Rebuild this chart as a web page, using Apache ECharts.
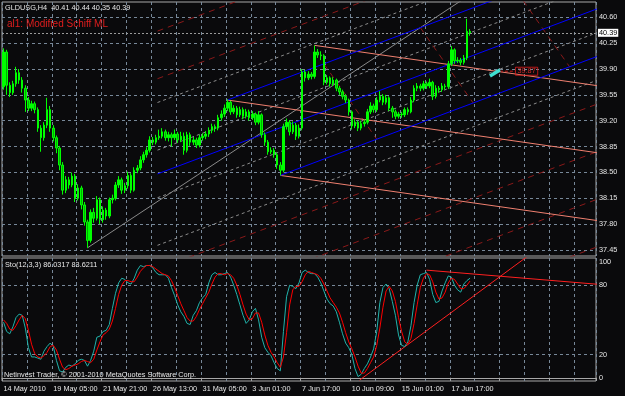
<!DOCTYPE html>
<html><head><meta charset="utf-8">
<script src="https://cdn.jsdelivr.net/npm/echarts@6/dist/echarts.min.js"></script>
<style>html,body{margin:0;padding:0;background:#0a0a0c}#c{width:625px;height:396px}</style>
</head><body><div id="c"></div>
<script>
// ---- data (GLDUSG, H4) ----
const symbolName = 'GLDUSG,H4';
const opens = [
39.66,40.13,39.68,39.58,39.70,39.85,39.75,39.64,39.48,39.37,
39.43,39.35,39.10,38.97,39.14,39.35,39.10,38.97,38.83,38.60,
38.26,38.40,38.33,38.45,38.15,38.29,38.06,37.83,37.58,37.96,
37.88,38.13,37.86,37.99,37.91,38.13,38.15,38.33,38.40,38.26,
38.32,38.46,38.26,38.53,38.56,38.67,38.74,38.80,38.94,38.91,
38.97,38.99,39.05,38.97,39.01,38.97,39.02,38.94,38.99,38.80,
39.01,38.91,38.94,38.87,38.97,38.99,39.02,39.07,39.12,39.10,
39.24,39.29,39.37,39.45,39.32,39.37,39.28,39.35,39.26,39.32,
39.24,39.29,39.18,39.28,39.01,38.91,38.78,38.80,38.74,38.60,
38.53,39.12,39.18,39.05,39.14,38.99,39.10,39.86,39.78,39.83,
39.80,40.13,40.09,40.08,39.72,39.78,39.70,39.75,39.64,39.59,
39.53,39.48,39.32,39.13,39.18,39.10,39.16,39.18,39.32,39.40,
39.35,39.48,39.53,39.45,39.51,39.37,39.32,39.26,39.29,39.28,
39.35,39.32,39.48,39.64,39.67,39.64,39.70,39.67,39.72,39.53,
39.64,39.62,39.67,39.66,39.97,40.16,40.01,40.02,39.99,40.05,
40.41];
const closes = [
40.13,39.68,39.58,39.70,39.85,39.75,39.64,39.48,39.37,39.43,
39.35,39.10,38.97,39.14,39.35,39.10,38.97,38.83,38.60,38.26,
38.40,38.33,38.45,38.15,38.29,38.06,37.83,37.58,37.96,37.88,
38.13,37.86,37.99,37.91,38.13,38.15,38.33,38.40,38.26,38.32,
38.46,38.26,38.53,38.56,38.67,38.74,38.80,38.94,38.91,38.97,
38.99,39.05,38.97,39.01,38.97,39.02,38.94,38.99,38.80,39.01,
38.91,38.94,38.87,38.97,38.99,39.02,39.07,39.12,39.10,39.24,
39.29,39.37,39.45,39.32,39.37,39.28,39.35,39.26,39.32,39.24,
39.29,39.18,39.28,39.01,38.91,38.78,38.80,38.74,38.60,38.53,
39.12,39.18,39.05,39.14,38.99,39.10,39.86,39.78,39.83,39.80,
40.13,40.09,40.08,39.72,39.78,39.70,39.75,39.64,39.59,39.53,
39.48,39.32,39.13,39.18,39.10,39.16,39.18,39.32,39.40,39.35,
39.48,39.53,39.45,39.51,39.37,39.32,39.26,39.29,39.28,39.35,
39.32,39.48,39.64,39.67,39.64,39.70,39.67,39.72,39.53,39.64,
39.62,39.67,39.66,39.97,40.16,40.01,40.02,39.99,40.05,40.41,
40.39];
const highs = [
40.18,40.16,39.72,39.74,39.93,39.90,39.79,39.68,39.52,39.47,
39.46,39.38,39.14,39.18,39.51,39.40,39.14,39.00,38.86,38.64,
38.45,38.44,38.50,38.48,38.34,38.32,38.10,37.86,38.00,38.02,
38.18,38.16,38.04,38.02,38.16,38.20,38.37,38.45,38.43,38.36,
38.51,38.49,38.57,38.60,38.72,38.78,38.84,38.99,38.98,39.01,
39.08,39.10,39.08,39.05,39.04,39.08,39.05,39.05,39.04,39.05,
39.04,38.98,38.97,39.01,39.03,39.06,39.11,39.16,39.15,39.28,
39.34,39.42,39.49,39.47,39.41,39.40,39.39,39.38,39.36,39.35,
39.33,39.31,39.33,39.30,39.04,38.94,38.84,38.83,38.77,38.64,
39.16,39.23,39.21,39.19,39.17,39.15,39.90,39.89,39.87,39.86,
40.22,40.17,40.14,40.10,39.82,39.80,39.79,39.77,39.67,39.62,
39.56,39.50,39.34,39.22,39.20,39.20,39.22,39.36,39.45,39.43,
39.52,39.60,39.56,39.55,39.53,39.40,39.35,39.32,39.32,39.38,
39.38,39.52,39.68,39.71,39.70,39.74,39.73,39.77,39.74,39.68,
39.67,39.71,39.70,40.01,40.21,40.18,40.06,40.05,40.09,40.58,
40.44];
const lows = [
39.62,39.55,39.52,39.55,39.66,39.70,39.58,39.32,39.33,39.33,
39.30,39.05,38.78,38.93,39.10,39.05,38.92,38.76,38.53,38.20,
38.22,38.28,38.30,38.10,38.12,38.00,37.78,37.48,37.55,37.82,
37.85,37.80,37.82,37.86,37.88,38.08,38.12,38.29,38.21,38.22,
38.28,38.22,38.24,38.49,38.53,38.63,38.70,38.77,38.87,38.88,
38.94,38.96,38.93,38.92,38.85,38.94,38.90,38.91,38.74,38.77,
38.86,38.87,38.83,38.84,38.93,38.95,38.98,39.03,39.05,39.07,
39.20,39.25,39.33,39.28,39.29,39.24,39.25,39.22,39.23,39.20,
39.21,39.14,39.15,38.97,38.86,38.74,38.75,38.70,38.55,38.46,
38.50,39.08,39.00,39.02,38.94,38.96,39.07,39.73,39.75,39.76,
39.77,40.05,40.02,39.68,39.69,39.66,39.67,39.60,39.55,39.49,
39.44,39.27,39.08,39.10,39.06,39.07,39.12,39.15,39.29,39.31,
39.32,39.45,39.41,39.42,39.33,39.24,39.22,39.23,39.24,39.25,
39.28,39.30,39.45,39.60,39.60,39.61,39.63,39.64,39.48,39.50,
39.58,39.59,39.62,39.63,39.94,39.97,39.98,39.95,39.96,40.02,
40.35];
const stochK = [
48,40,38,44,52,55,54,43,26,18,
18,17,16,23,27,30,27,15,6,5,
9,11,10,12,15,16,15,10,15,23,
35,36,40,41,46,60,73,82,86,85,
82,81,86,93,97,96,97,97,95,91,
89,89,89,86,78,71,63,57,53,47,
46,54,58,65,69,72,82,89,91,89,
89,90,91,87,80,72,63,54,47,50,
57,60,50,35,26,22,19,13,8,6,
40,70,80,79,77,82,91,93,91,90,
90,87,82,75,68,64,62,57,48,38,
30,26,20,8,1,3,8,12,18,25,
40,65,78,81,77,66,54,37,28,27,
31,45,65,80,89,90,91,85,72,65,
66,75,82,88,87,80,76,74,81,84,
86.0317];
const stochD = [
50,47,42,41,45,50,54,51,41,29,
21,18,17,19,22,27,28,24,16,9,
7,8,10,11,12,14,15,14,13,16,
24,31,37,39,42,49,60,72,80,84,
84,83,83,87,92,95,97,97,96,94,
92,90,89,88,84,78,71,64,58,52,
49,49,53,59,64,69,74,81,87,90,
90,89,90,89,86,80,72,63,55,50,
51,56,56,48,37,28,22,18,13,9,
18,39,63,76,79,79,83,89,92,91,
90,89,86,81,75,69,65,61,56,48,
39,31,25,18,10,4,4,8,13,18,
28,43,61,75,79,75,66,52,40,31,
29,34,47,63,78,86,90,89,83,74,
68,69,74,82,86,85,81,77,77,80,
83.6211];
const timeLabels = ['14 May 2010','19 May 05:00','21 May 21:00','26 May 13:00','31 May 05:00','3 Jun 01:00','7 Jun 17:00','10 Jun 09:00','15 Jun 01:00','17 Jun 17:00'];
const labelEvery = 16;      // bars between time labels
const slotCount = 191;      // bar slots visible across the chart
const priceLabels = [37.45, 37.80, 38.15, 38.50, 38.85, 39.20, 39.55, 39.90, 40.25, 40.60];
const stochLabels = [0, 20, 80, 100];
const stochLevels = [20, 80];
// drawn objects (bar index, price)
const pfBars = [27, 72, 89];
const pfPrices = [37.48, 39.48, 38.46];
const peakBar = 100, peakPrice = 40.22;
const channelSlope = -0.0060;       // price per bar of the salmon channel
const targetBar = [156.4, 159.6], targetPrice = [39.805, 39.886];
const targetLabel = 39.87;
const stochLine1 = [[114.5, -2], [175, 117.9]];
const stochLine2 = [[136, 93], [200, 78.8]];

// ---- build ----
const chart = echarts.init(document.getElementById('c'), null, {renderer: 'canvas'});
const FN = '"Liberation Sans",Arial,sans-serif';
const FS = 7.3;
const FG = '#e6e6e6';
const GRIDC = '#778899';
const categories = Array.from({length: slotCount}, (_, i) => String(i));
const ohlc = opens.map((o, i) => [o, closes[i], lows[i], highs[i]]);
const last = opens.length - 1;

const H = [(pfBars[0] + pfBars[1]) / 2, (pfPrices[0] + pfPrices[1]) / 2];
const M = [(pfBars[1] + pfBars[2]) / 2, (pfPrices[1] + pfPrices[2]) / 2];
const slope = (M[1] - H[1]) / (M[0] - H[0]);
const med = b => H[1] + slope * (b - H[0]);
const w = pfPrices[1] - med(pfBars[1]);
const END = 205;
const par = (sb, off) => [[sb, med(sb) + off], [END, med(END) + off]];

const segs = [];
function seg(pts, color, type, width, xi, yi) {
  segs.push({type: 'line', xAxisIndex: xi === undefined ? 2 : xi, yAxisIndex: yi === undefined ? 0 : yi,
    data: pts, symbol: 'none', silent: true, clip: true, animation: false, z: 3,
    lineStyle: {color, type, width: width || 1}});
}
[0.5, -0.5, 1.5, -1.5].forEach(k => seg(par(H[0], k * w), '#8c8c8c', [3, 3]));
[2, -2, 3, -3, 4, -4, 5, -5].forEach(k => seg(par(H[0], k * w), '#8b1a1a', [6, 5]));
for (let k = 1; k <= 4; k++) {
  seg([[pfBars[1] + k * (M[0] - H[0]), pfPrices[1] + k * (M[1] - H[1])],
       [pfBars[2] + k * (M[0] - H[0]), pfPrices[2] + k * (M[1] - H[1])]], '#8b1a1a', [6, 5]);
}
const aSlope = (M[1] - pfPrices[0]) / (M[0] - pfBars[0]);
seg([[pfBars[0], pfPrices[0]], [END, pfPrices[0] + aSlope * (END - pfBars[0])]], '#8a8a8a', 'solid');
[[pfBars[1], pfPrices[1]], [pfBars[2], pfPrices[2]], [peakBar, peakPrice]].forEach(p =>
  seg([p, [END, p[1] + channelSlope * (END - p[0])]], '#f08070', 'solid'));
seg(par(H[0], 0), '#0000ff', 'solid');
seg(par(pfBars[1], w), '#0000ff', 'solid');
seg(par(pfBars[2], -w), '#0000ff', 'solid');
seg([[targetBar[1], targetLabel], [targetBar[1] + 5, targetLabel]], '#c01818', [3, 2]);
seg([[targetBar[0], targetPrice[0]], [targetBar[1], targetPrice[1]]], '#40e0d0', 'solid', 3.5);
seg(stochLine1, '#ff2020', 'solid', 1, 3, 1);
seg(stochLine2, '#ff2020', 'solid', 1, 3, 1);

const axisTxt = {color: FG, fontFamily: FN, fontSize: FS};
const gridSplit = {show: true, lineStyle: {color: GRIDC, type: [3, 3], width: 1}};
const lvlLabel = {show: true, position: 'end', distance: 3, color: FG, fontFamily: FN, fontSize: FS};

const option = {
  backgroundColor: '#0a0a0c',
  animation: false,
  grid: [
    {left: 2, top: 2, width: 594, height: 254, show: true, borderColor: '#a8a8a8', borderWidth: 1},
    {left: 2, top: 258, width: 594, height: 123, show: true, borderColor: '#a8a8a8', borderWidth: 1}
  ],
  xAxis: [
    {type: 'category', gridIndex: 0, data: categories, boundaryGap: true,
     axisLine: {show: false}, axisTick: {show: false}, axisLabel: {show: false},
     splitLine: Object.assign({interval: 7}, gridSplit)},
    {type: 'category', gridIndex: 1, data: categories, boundaryGap: true,
     axisLine: {show: true, lineStyle: {color: '#a8a8a8'}},
     axisTick: {show: true, interval: labelEvery - 1, length: 3, lineStyle: {color: '#a8a8a8'}},
     axisLabel: Object.assign({show: true, interval: labelEvery - 1, align: 'left', margin: 4, showMinLabel: true,
       formatter: (v, i) => (i % labelEvery === 0 && timeLabels[i / labelEvery]) || ''}, axisTxt),
     splitLine: Object.assign({interval: 7}, gridSplit)},
    {type: 'value', gridIndex: 0, min: -0.5, max: slotCount - 0.5, show: false},
    {type: 'value', gridIndex: 1, min: -0.5, max: slotCount - 0.5, show: false}
  ],
  yAxis: [
    {type: 'value', gridIndex: 0, position: 'right', min: 37.369, max: 40.807,
     axisLine: {show: false}, axisTick: {show: false}, axisLabel: {show: false}, splitLine: {show: false}},
    {type: 'value', gridIndex: 1, position: 'right', min: -2.8, max: 103.5,
     axisLine: {show: false}, axisTick: {show: false}, axisLabel: {show: false}, splitLine: {show: false}}
  ],
  series: [
    {type: 'candlestick', xAxisIndex: 0, yAxisIndex: 0, data: ohlc, barWidth: 2, z: 4,
     itemStyle: {color: '#00ff00', color0: '#00b000', borderColor: '#00ff00', borderColor0: '#00ff00', borderWidth: 1},
     markLine: {silent: true, symbol: 'none', animation: false, z: 1,
       lineStyle: {color: GRIDC, type: [3, 3], width: 1},
       label: Object.assign({formatter: p => p.value.toFixed(2)}, lvlLabel),
       data: priceLabels.map(v => ({yAxis: v})).concat([{yAxis: closes[last],
         lineStyle: {color: '#9a9a9a', type: [2, 2], width: 1},
         label: {show: true, position: 'end', distance: 2, formatter: () => closes[last].toFixed(2),
           color: '#000', backgroundColor: '#ffffff', padding: [1, 1, 0, 1], fontFamily: FN, fontSize: FS}}])}},
    {type: 'line', xAxisIndex: 1, yAxisIndex: 1, data: stochK, symbol: 'none', z: 4,
     lineStyle: {color: '#20b2aa', width: 1},
     markLine: {silent: true, symbol: 'none', animation: false, z: 1,
       label: Object.assign({formatter: p => String(p.value)}, lvlLabel),
       data: stochLabels.map(v => ({yAxis: v,
         lineStyle: {color: stochLevels.indexOf(v) >= 0 ? GRIDC : 'rgba(0,0,0,0)', type: [3, 3], width: 1}}))}},
    {type: 'line', xAxisIndex: 1, yAxisIndex: 1, data: stochD, symbol: 'none', z: 5,
     lineStyle: {color: '#ff0000', width: 1}},
    {type: 'scatter', xAxisIndex: 2, yAxisIndex: 0, data: [[targetBar[1] + 5, targetLabel]], symbolSize: 0, z: 6,
     label: {show: true, position: 'right', distance: 0, formatter: () => targetLabel.toFixed(2),
       color: '#ff3030', borderColor: '#e01c1c', borderWidth: 1, padding: [1, 2, 0, 2],
       fontFamily: FN, fontSize: FS}},
    ...segs
  ],
  graphic: [
    {type: 'text', left: 5, top: 4, z: 10, style: {text: symbolName + '  ' + [opens[last], highs[last], lows[last], closes[last]].map(v => v.toFixed(2)).join(' '),
      fill: FG, fontFamily: FN, fontSize: FS}},
    {type: 'text', left: 7, top: 19, z: 10, style: {text: 'al1: Modified Schiff ML', fill: '#e01e1e', fontFamily: FN, fontSize: 10}},
    {type: 'text', left: 5, top: 261, z: 10, style: {text: 'Sto(12,3,3) ' + stochK[last].toFixed(4) + ' ' + stochD[last].toFixed(4),
      fill: FG, fontFamily: FN, fontSize: FS}},
    {type: 'text', left: 4, top: 371, z: 10, style: {text: 'Netinvest Trader, \u00a9 2001-2010 MetaQuotes Software Corp.',
      fill: FG, fontFamily: FN, fontSize: FS}}
  ]
};
chart.setOption(option);
</script></body></html>
